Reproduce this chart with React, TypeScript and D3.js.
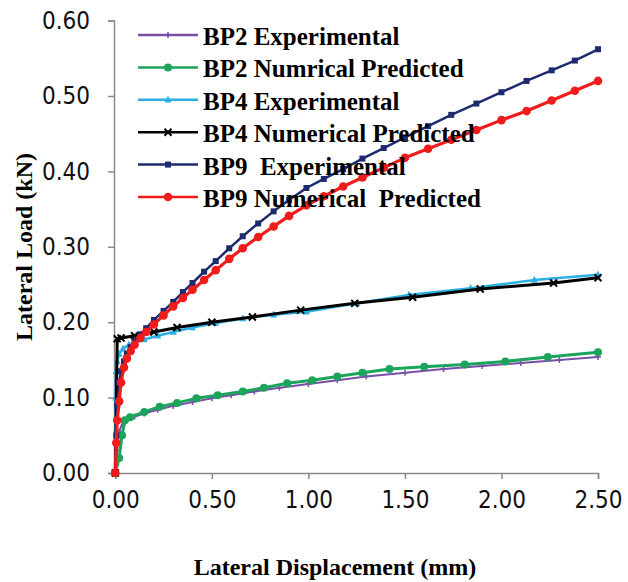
import React, { useRef, useEffect } from 'react';
import * as d3 from 'd3';

// Lateral load vs lateral displacement

const xTicks = [0, 0.5, 1.0, 1.5, 2.0, 2.5];
const yTicks = [0, 0.1, 0.2, 0.3, 0.4, 0.5, 0.6];

// BP2
const bp2ExpX = [0, 0.01, 0.02, 0.04, 0.06, 0.1, 0.15, 0.22, 0.3, 0.4, 0.5, 0.6, 0.72, 0.85, 1.0, 1.15, 1.3, 1.5, 1.7, 1.9, 2.1, 2.3, 2.5];
const bp2ExpY = [0, 0.03, 0.055, 0.068, 0.072, 0.075, 0.079, 0.084, 0.089, 0.094, 0.099, 0.103, 0.108, 0.113, 0.118, 0.123, 0.128, 0.133, 0.138, 0.142, 0.146, 0.15, 0.154];
const bp2NumX = [0, 0.02, 0.035, 0.05, 0.077, 0.15, 0.23, 0.32, 0.42, 0.53, 0.66, 0.77, 0.89, 1.02, 1.15, 1.28, 1.42, 1.6, 1.81, 2.02, 2.24, 2.5];
const bp2NumY = [0, 0.02, 0.05, 0.07, 0.074, 0.081, 0.088, 0.093, 0.099, 0.103, 0.108, 0.113, 0.119, 0.123, 0.128, 0.133, 0.138, 0.141, 0.144, 0.148, 0.154, 0.16];

// BP4
const bp4ExpX = [0, 0.002, 0.005, 0.01, 0.02, 0.04, 0.07, 0.1, 0.15, 0.22, 0.3, 0.4, 0.52, 0.66, 0.82, 0.99, 1.25, 1.52, 1.84, 2.17, 2.5];
const bp4ExpY = [0, 0.1, 0.135, 0.148, 0.158, 0.165, 0.17, 0.173, 0.177, 0.182, 0.187, 0.193, 0.199, 0.205, 0.21, 0.214, 0.225, 0.236, 0.245, 0.256, 0.263];
const bp4NumX = [0, 0.01, 0.03, 0.1, 0.2, 0.32, 0.5, 0.71, 0.96, 1.24, 1.54, 1.89, 2.27, 2.5];
const bp4NumY = [0, 0.178, 0.179, 0.182, 0.187, 0.193, 0.2, 0.207, 0.216, 0.225, 0.233, 0.244, 0.252, 0.259];

// BP9
const bp9X = [0, 0.005, 0.01, 0.02, 0.03, 0.045, 0.06, 0.08, 0.1, 0.13, 0.16, 0.2, 0.25, 0.3, 0.35, 0.4, 0.46, 0.52, 0.59, 0.66, 0.74, 0.82, 0.9, 0.99, 1.08, 1.18, 1.28, 1.39, 1.5, 1.62, 1.74, 1.87, 2.0, 2.13, 2.26, 2.38, 2.5];
const bp9ExpY = [0, 0.05, 0.09, 0.12, 0.135, 0.148, 0.158, 0.167, 0.175, 0.184, 0.192, 0.203, 0.215, 0.227, 0.24, 0.252, 0.267, 0.281, 0.298, 0.314, 0.331, 0.347, 0.362, 0.378, 0.39, 0.403, 0.417, 0.431, 0.445, 0.46, 0.475, 0.49, 0.505, 0.52, 0.534, 0.547, 0.562];
const bp9NumY = [0, 0.04, 0.07, 0.095, 0.12, 0.14, 0.152, 0.162, 0.17, 0.179, 0.187, 0.197, 0.209, 0.221, 0.232, 0.243, 0.256, 0.269, 0.284, 0.298, 0.313, 0.327, 0.341, 0.355, 0.367, 0.38, 0.392, 0.405, 0.418, 0.43, 0.442, 0.455, 0.468, 0.48, 0.494, 0.507, 0.52];

const seriesNames = [
  'BP2 Experimental',
  'BP2 Numrical Predicted',
  'BP4 Experimental',
  'BP4 Numerical Predicted',
  'BP9  Experimental',
  'BP9 Numerical  Predicted',
];
const seriesColors = ['#7a4fa8', '#1aa55a', '#2bb0e4', '#000000', '#1d2a6d', '#f01c1c'];
const seriesMarkers = ['plus', 'circle', 'triangle', 'cross', 'square', 'circle'];

export default function App() {
  const svgRef = useRef<SVGSVGElement | null>(null);

  useEffect(() => {
    if (!svgRef.current) return;
    const svg = d3.select(svgRef.current);
    svg.selectAll('*').remove();

    const x = d3.scaleLinear().domain([0, 2.5]).range([115.3, 598]);
    const y = d3.scaleLinear().domain([0, 0.6]).range([473, 20.6]);

    const data = [
      bp2ExpX.map((v, i) => [v, bp2ExpY[i]]),
      bp2NumX.map((v, i) => [v, bp2NumY[i]]),
      bp4ExpX.map((v, i) => [v, bp4ExpY[i]]),
      bp4NumX.map((v, i) => [v, bp4NumY[i]]),
      bp9X.map((v, i) => [v, bp9ExpY[i]]),
      bp9X.map((v, i) => [v, bp9NumY[i]]),
    ];
    const widths = [2, 3, 2.5, 3, 2.5, 3.2];

    const tickFont = "'DejaVu Sans Condensed', 'DejaVu Sans', sans-serif";
    const titleFont = "'Liberation Serif', 'DejaVu Serif', serif";

    // Y axis
    const yAxis = svg.append('g')
      .attr('transform', `translate(${x(0) - 1.3},0)`)
      .call(d3.axisLeft(y).tickValues(yTicks).tickSize(6).tickPadding(18).tickFormat(d => (+d).toFixed(2)));
    // X axis
    const xAxis = svg.append('g')
      .attr('transform', `translate(0,${y(0)})`)
      .call(d3.axisBottom(x).tickValues(xTicks).tickSize(6).tickPadding(12).tickFormat(d => (+d).toFixed(2)));

    [yAxis, xAxis].forEach(ax => {
      ax.select('.domain').attr('stroke', '#8a8a8a').attr('stroke-width', 1.5);
      ax.selectAll('.tick line').attr('stroke', '#8a8a8a').attr('stroke-width', 1.5);
      ax.selectAll('.tick text')
        .attr('fill', '#111')
        .attr('font-family', tickFont)
        .attr('font-size', 24);
    });

    const line = d3.line<number[]>().x(d => x(d[0])).y(d => y(d[1]));

    const drawMarker = (g: any, kind: string, cx: number, cy: number, color: string, s: number) => {
      if (kind === 'circle') {
        g.append('circle').attr('cx', cx).attr('cy', cy).attr('r', s).attr('fill', color);
      } else if (kind === 'square') {
        g.append('rect').attr('x', cx - s).attr('y', cy - s).attr('width', 2 * s).attr('height', 2 * s).attr('fill', color);
      } else if (kind === 'triangle') {
        g.append('path').attr('d', `M${cx},${cy - s * 1.2}L${cx + s},${cy + s * 0.8}L${cx - s},${cy + s * 0.8}Z`).attr('fill', color);
      } else if (kind === 'cross') {
        g.append('path').attr('d', `M${cx - s},${cy - s}L${cx + s},${cy + s}M${cx - s},${cy + s}L${cx + s},${cy - s}`)
          .attr('stroke', color).attr('stroke-width', 2);
      } else {
        g.append('path').attr('d', `M${cx - s},${cy}L${cx + s},${cy}M${cx},${cy - s}L${cx},${cy + s}`)
          .attr('stroke', color).attr('stroke-width', 1.5);
      }
    };
    const markerSize = [3, 4, 3.5, 3.5, 3, 4.3];

    const plot = svg.append('g');
    data.forEach((pts, i) => {
      const g = plot.append('g');
      g.append('path')
        .attr('d', line(pts))
        .attr('fill', 'none')
        .attr('stroke', seriesColors[i])
        .attr('stroke-width', widths[i])
        .attr('stroke-linejoin', 'round');
      pts.forEach(p => drawMarker(g, seriesMarkers[i], x(p[0]), y(p[1]), seriesColors[i], markerSize[i]));
    });

    // Legend
    const legend = svg.append('g');
    seriesNames.forEach((name, i) => {
      const ly = 35 + i * 32.4;
      const g = legend.append('g');
      g.append('line').attr('x1', 138).attr('x2', 198).attr('y1', ly).attr('y2', ly)
        .attr('stroke', seriesColors[i]).attr('stroke-width', 2.5);
      drawMarker(g, seriesMarkers[i], 168, ly, seriesColors[i], markerSize[i]);
      g.append('text')
        .attr('x', 203).attr('y', ly + 10)
        .attr('font-family', titleFont).attr('font-weight', 'bold').attr('font-size', 25)
        .attr('fill', '#000')
        .style('white-space', 'pre')
        .text(name);
    });

    // Axis titles
    svg.append('text')
      .attr('transform', `translate(32,247) rotate(-90)`)
      .attr('text-anchor', 'middle')
      .attr('font-family', titleFont).attr('font-weight', 'bold').attr('font-size', 24)
      .text('Lateral Load (kN)');
    svg.append('text')
      .attr('x', 335).attr('y', 575)
      .attr('text-anchor', 'middle')
      .attr('font-family', titleFont).attr('font-weight', 'bold').attr('font-size', 24)
      .text('Lateral Displacement (mm)');
  }, []);

  return (
    <svg ref={svgRef} width={628} height={582}
      style={{ position: 'absolute', left: 0, top: 0, background: '#fff', display: 'block' }} />
  );
}
